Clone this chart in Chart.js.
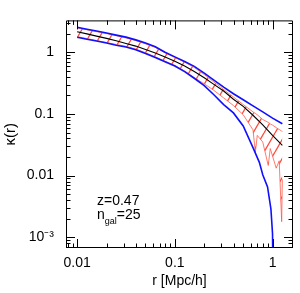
<!DOCTYPE html>
<html>
<head>
<meta charset="utf-8">
<script src="https://cdn.jsdelivr.net/npm/chart.js@4"></script>
<style>
  html, body { margin: 0; padding: 0; background: #fff; }
  #wrap { width: 300px; height: 293px; }
</style>
</head>
<body>
<div id="wrap"><canvas id="chart-kappa"></canvas></div>
<script>
// radii (Mpc/h) for the median and blue envelope
const radios = [0.01, 0.0126, 0.0158, 0.02, 0.0251, 0.0316, 0.0398, 0.0501, 0.0631, 0.0794, 0.1,
  0.126, 0.158, 0.2, 0.251, 0.316, 0.398, 0.501, 0.631, 0.794, 1.0, 1.26];

const mediana = [2.16, 1.99, 1.83, 1.68, 1.54, 1.39, 1.26, 1.11, 0.976, 0.839, 0.717,
  0.598, 0.488, 0.386, 0.302, 0.236, 0.173, 0.133, 0.0952, 0.0667, 0.0449, 0.031];

const azulArriba = [2.54, 2.37, 2.21, 2.06, 1.90, 1.76, 1.59, 1.41, 1.23, 1.00, 0.843,
  0.710, 0.592, 0.460, 0.354, 0.272, 0.213, 0.170, 0.135, 0.108, 0.0857, 0.0695];

// lower blue curve drops to zero just before r = 1
const radiosAzulAbajo = [0.01, 0.0126, 0.0158, 0.02, 0.0251, 0.0316, 0.0398, 0.0501, 0.0631, 0.0794, 0.1,
  0.126, 0.158, 0.2, 0.251, 0.316, 0.398, 0.501, 0.631, 0.733, 0.794, 0.889, 0.963, 1.0, 1.016];
const azulAbajo = [1.75, 1.63, 1.52, 1.41, 1.30, 1.22, 1.10, 0.959, 0.825, 0.700, 0.598,
  0.485, 0.379, 0.287, 0.205, 0.142, 0.104, 0.0637, 0.0284, 0.0164, 0.0103, 0.00655, 0.00286, 0.00114, 0.0001];

// red hatched band (both edges on the same radii)
const radiosRojo = [0.01, 0.0126, 0.0158, 0.02, 0.0251, 0.0316, 0.0398, 0.0501, 0.0631, 0.0794, 0.1,
  0.126, 0.158, 0.2, 0.251, 0.316, 0.398, 0.501, 0.631, 0.667, 0.698, 0.794, 0.904, 0.948, 1.0, 1.09, 1.17, 1.24, 1.26];
const rojoArriba = [2.48, 2.32, 2.16, 2.01, 1.86, 1.71, 1.55, 1.37, 1.20, 0.98, 0.822,
  0.692, 0.567, 0.436, 0.330, 0.249, 0.188, 0.142, 0.108, 0.102, 0.097, 0.0813, 0.073, 0.069, 0.0659, 0.060, 0.056, 0.053, 0.0516];
const rojoAbajo = [1.79, 1.67, 1.55, 1.44, 1.34, 1.25, 1.13, 0.982, 0.845, 0.717, 0.613,
  0.497, 0.389, 0.308, 0.241, 0.182, 0.137, 0.0969, 0.0553, 0.0239, 0.0449, 0.0351, 0.0146, 0.0275, 0.0208, 0.0132, 0.0174, 0.00179, 0.0087];

const xTickValores = [0.01, 0.1, 1];
const xTickEtiquetas = ['0.01', '0.1', '1'];
const yTickValores = [1, 0.1, 0.01, 0.001];
const yTickEtiquetas = ['1', '0.1', '0.01', '10⁻³'];

const FUENTE = '"Liberation Sans", Arial, Helvetica, sans-serif';
const ROJO = '#ff5a4a';

const puntos = (xs, ys) => xs.map((r, i) => ({ x: r, y: ys[i] }));

const etiqueta = (valores, textos) => (v) => {
    const i = valores.findIndex(t => Math.abs(v / t - 1) < 1e-6);
    return i >= 0 ? textos[i] : '';
};

const crearRayado = () => {
    const c = document.createElement('canvas');
    c.width = 11;
    c.height = 19;
    const g = c.getContext('2d');
    g.strokeStyle = '#ff4a3a';
    g.lineWidth = 1.3;
    g.beginPath();
    for (let k = -1; k <= 1; k++) {
        g.moveTo(k * 11, 19);
        g.lineTo(k * 11 + 11, 0);
    }
    g.stroke();
    return g.createPattern(c, 'repeat');
};

// frame with inward ticks on all four sides, like the original plot
const marcoIDL = {
    id: 'marcoIDL',
    afterDraw(chart) {
        const { ctx, chartArea: a, scales: { x, y } } = chart;
        ctx.save();
        ctx.strokeStyle = '#000';
        ctx.lineWidth = 1;
        ctx.beginPath();
        ctx.rect(a.left + 0.5, a.top + 0.5, a.right - a.left - 1, a.bottom - a.top - 1);
        for (let e = -4; e <= 1; e++) {
            for (let m = 1; m <= 9; m++) {
                const v = m * Math.pow(10, e);
                const largo = m === 1 ? 9 : 4.5;
                if (v > x.min && v < x.max) {
                    const px = Math.round(x.getPixelForValue(v)) + 0.5;
                    ctx.moveTo(px, a.bottom); ctx.lineTo(px, a.bottom - largo);
                    ctx.moveTo(px, a.top); ctx.lineTo(px, a.top + largo);
                }
                if (v > y.min && v < y.max) {
                    const py = Math.round(y.getPixelForValue(v)) + 0.5;
                    ctx.moveTo(a.left, py); ctx.lineTo(a.left + largo, py);
                    ctx.moveTo(a.right, py); ctx.lineTo(a.right - largo, py);
                }
            }
        }
        ctx.stroke();

        // annotation
        ctx.fillStyle = '#000';
        ctx.textBaseline = 'alphabetic';
        ctx.textAlign = 'left';
        ctx.font = `14px ${FUENTE}`;
        ctx.fillText('z=0.47', 97, 205);
        ctx.fillText('n', 97, 219);
        let xx = 97 + ctx.measureText('n').width;
        ctx.font = `9px ${FUENTE}`;
        ctx.fillText('gal', xx, 224);
        xx += ctx.measureText('gal').width;
        ctx.font = `14px ${FUENTE}`;
        ctx.fillText('=25', xx, 219);
        ctx.restore();
    }
};

const ctxKappa = document.getElementById('chart-kappa').getContext('2d');
new Chart(ctxKappa, {
    type: 'line',
    data: {
        datasets: [
            { label: 'mediana', data: puntos(radios, mediana), borderColor: '#000', borderWidth: 1.1, order: 0 },
            { label: 'azul arriba', data: puntos(radios, azulArriba), borderColor: '#1010ff', borderWidth: 1.6, order: 1 },
            { label: 'azul abajo', data: puntos(radiosAzulAbajo, azulAbajo), borderColor: '#1010ff', borderWidth: 1.6, order: 2 },
            { label: 'rojo arriba', data: puntos(radiosRojo, rojoArriba), borderColor: ROJO, borderWidth: 0.8,
              backgroundColor: crearRayado(), fill: '+1', order: 3 },
            { label: 'rojo abajo', data: puntos(radiosRojo, rojoAbajo), borderColor: ROJO, borderWidth: 0.8, order: 4 }
        ]
    },
    options: {
        responsive: true,
        maintainAspectRatio: false,
        animation: false,
        elements: { point: { radius: 0 }, line: { tension: 0 } },
        layout: { padding: { left: 0, top: 5, right: 6, bottom: 0 } },
        plugins: { legend: { display: false }, tooltip: { enabled: false } },
        scales: {
            x: {
                type: 'logarithmic',
                min: 0.00769,
                max: 1.62,
                grid: { display: false, drawTicks: false },
                border: { display: false },
                ticks: { autoSkip: false, maxRotation: 0, padding: 7, color: '#000',
                         font: { family: FUENTE, size: 14 }, callback: etiqueta(xTickValores, xTickEtiquetas) },
                title: { display: true, text: 'r [Mpc/h]', color: '#000', font: { family: FUENTE, size: 14 }, padding: { top: 0, bottom: 3 } },
                afterFit: s => { s.height = 45; }
            },
            y: {
                type: 'logarithmic',
                min: 0.00067,
                max: 3.29,
                grid: { display: false, drawTicks: false },
                border: { display: false },
                ticks: { autoSkip: false, padding: 12, color: '#000',
                         font: { family: FUENTE, size: 14 }, callback: etiqueta(yTickValores, yTickEtiquetas) },
                title: { display: true, text: 'κ(r)', color: '#000', font: { family: FUENTE, size: 15 }, padding: { top: 2, bottom: 0 } },
                afterFit: s => { s.width = 66; }
            }
        }
    },
    plugins: [marcoIDL]
});
</script>
</body>
</html>
